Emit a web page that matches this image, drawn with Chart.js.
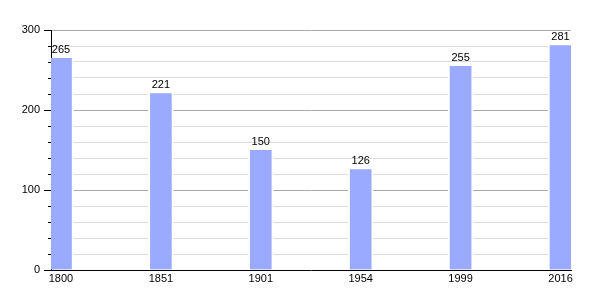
<!DOCTYPE html>
<html>
<head>
<meta charset="utf-8">
<script src="https://cdn.jsdelivr.net/npm/chart.js@4/dist/chart.umd.min.js"></script>
<style>
  html, body { margin: 0; padding: 0; background: #fff; }
  #wrap { width: 600px; height: 300px; }
</style>
</head>
<body>
<div id="wrap"><canvas id="chart" width="600" height="300"></canvas></div>
<script>
var years = ['1800', '1851', '1901', '1954', '1999', '2016'];
var population = [265, 221, 150, 126, 255, 281];
var yMajorTicks = [0, 100, 200, 300];

var points = population.map(function(v, i) { return {x: i, y: v}; });

function isMajor(v) { return yMajorTicks.indexOf(v) >= 0; }

// writes the value over each bar, and short minor ticks on the y axis
var valueLabels = {
    id: 'valueLabels',
    afterDatasetsDraw: function(chart) {
        var ctx = chart.ctx;
        var meta = chart.getDatasetMeta(0);
        ctx.save();
        ctx.font = '11px "Liberation Sans", Arial, sans-serif';
        ctx.fillStyle = '#000';
        ctx.textAlign = 'center';
        ctx.textBaseline = 'bottom';
        meta.data.forEach(function(bar, i) {
            ctx.fillText(String(population[i]), bar.x, bar.y - 3);
        });

        var y = chart.scales.y;
        ctx.strokeStyle = '#000';
        ctx.lineWidth = 1;
        y.ticks.forEach(function(t) {
            if (isMajor(t.value)) return;
            var py = Math.round(y.getPixelForValue(t.value)) + 0.5;
            ctx.beginPath();
            ctx.moveTo(y.right - 3, py);
            ctx.lineTo(y.right, py);
            ctx.stroke();
        });
        ctx.restore();
    }
};

Chart.defaults.font.family = '"Liberation Sans", Arial, sans-serif';
Chart.defaults.font.size = 11;
Chart.defaults.color = '#000';

new Chart(document.getElementById('chart').getContext('2d'), {
    type: 'bar',
    data: {
        datasets: [{
            data: points,
            backgroundColor: '#99aaff',
            borderColor: '#ffffff',
            borderWidth: {left: 2, right: 2, top: 0, bottom: 0},
            barThickness: 25
        }]
    },
    options: {
        responsive: false,
        animation: false,
        layout: {padding: {top: 30, right: 29, left: 0, bottom: 0}},
        plugins: {legend: {display: false}, tooltip: {enabled: false}},
        scales: {
            x: {
                type: 'linear',
                offset: false,
                min: -0.1,
                max: 5.105,
                afterBuildTicks: function(scale) {
                    scale.ticks = years.map(function(y, i) { return {value: i}; });
                },
                afterFit: function(scale) { scale.height = 30; },
                ticks: {
                    padding: 2,
                    autoSkip: false,
                    maxRotation: 0,
                    callback: function(v) { return years[v]; }
                },
                grid: {color: 'rgba(0,0,0,0)', drawTicks: false, offset: false},
                border: {display: true, color: '#000', width: 1}
            },
            y: {
                min: 0,
                max: 300,
                afterFit: function(scale) { scale.width = 51; },
                ticks: {
                    stepSize: 20,
                    maxTicksLimit: 20,
                    autoSkip: false,
                    padding: 4,
                    callback: function(v) { return isMajor(v) ? String(v) : ''; }
                },
                grid: {
                    tickLength: 7,
                    tickColor: function(c) {
                        return c.tick && isMajor(c.tick.value) ? '#000' : 'rgba(0,0,0,0)';
                    },
                    color: function(c) {
                        if (c.tick && c.tick.value === 0) return 'rgba(0,0,0,0)';
                        return c.tick && c.tick.value % 100 === 0 ? '#aaaaaa' : '#dddddd';
                    }
                },
                border: {display: true, color: '#000', width: 1}
            }
        }
    },
    plugins: [valueLabels]
});
</script>
</body>
</html>
